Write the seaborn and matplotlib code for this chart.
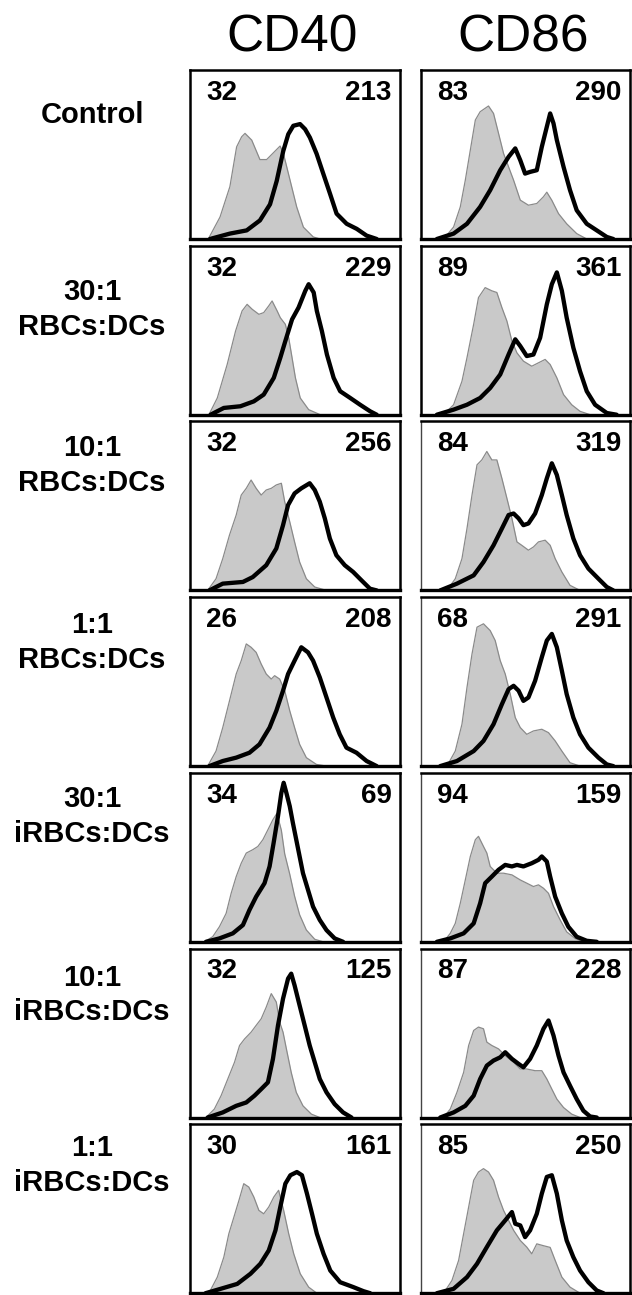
import matplotlib
matplotlib.use("Agg")
import matplotlib.pyplot as plt
import pandas as pd
import seaborn as sns

# ==============================
# Data
# x, y in % of panel width / height (0 = left / bottom)
# ==============================
ROW_LABELS = ["Control", "30:1\nRBCs:DCs", "10:1\nRBCs:DCs", "1:1\nRBCs:DCs",
              "30:1\niRBCs:DCs", "10:1\niRBCs:DCs", "1:1\niRBCs:DCs"]
MARKERS = ["CD40", "CD86"]

CD40_ISO_MFI = [32, 32, 32, 26, 34, 32, 30]
CD40_STAIN_MFI = [213, 229, 256, 208, 69, 125, 161]
CD86_ISO_MFI = [83, 89, 84, 68, 94, 87, 85]
CD86_STAIN_MFI = [290, 361, 319, 291, 159, 228, 250]

# ---- CD40 isotype (grey filled) ----
CD40_R1_GRAY = [(8.7, 0), (14.3, 13), (19, 31), (22.2, 54.5), (24.6, 60.5), (26.2, 62.5), (29.4, 58.5),
                (33.3, 47), (36.5, 47), (39.7, 51), (42.9, 55), (44.4, 51), (47.6, 35), (50.8, 19),
                (54, 7), (58.7, 1.2), (62, 0)]
CD40_R2_GRAY = [(9, 0), (13, 9.9), (17.7, 29.7), (21.7, 49.5), (24.8, 61.4), (27.2, 65.3), (29.6, 62.4),
                (32.8, 59.4), (35.1, 60.4), (37.5, 64.4), (39.1, 67.3), (41.5, 61.4), (43, 57.4),
                (45.4, 53.5), (47, 45.5), (48.6, 33.7), (50.2, 21.8), (52.5, 9.9), (56.5, 3), (62, 0)]
CD40_R3_GRAY = [(8.4, 0), (12.4, 6.9), (15.6, 18.8), (18.8, 32.7), (22, 44.6), (24.4, 56.4), (26.8, 60.4),
                (29.1, 65.3), (31.5, 60.4), (33.9, 56.4), (36.3, 59.4), (38.7, 60.4), (41.1, 62.4),
                (43.5, 63.4), (45.1, 52.5), (47.5, 40.6), (49.8, 28.7), (52.2, 16.8), (55.4, 6.9),
                (59.4, 2), (65, 0)]
CD40_R4_GRAY = [(8.4, 0), (12.4, 8.9), (15.6, 22.8), (18.8, 38.6), (22, 54.5), (24.4, 62.4), (26.8, 72.3),
                (29.1, 70.3), (31.5, 67.3), (33.9, 60.4), (36.3, 54.5), (38.7, 51.5), (40.3, 53.5),
                (42.7, 51.5), (45.1, 44.6), (47.5, 32.7), (49.8, 22.8), (52.2, 12.9), (55.4, 5),
                (60.2, 1), (65, 0)]
CD40_R5_GRAY = [(6.8, 0), (10.8, 3), (14, 8.9), (17.2, 16.8), (19.6, 28.7), (22, 38.6), (24.4, 46.5),
                (26.8, 52.5), (29.9, 54.5), (32.3, 56.4), (34.7, 60.4), (37.1, 66.3), (39.5, 72.3),
                (41.4, 76), (43.5, 66), (45.1, 52), (47.5, 40), (49.8, 27), (52.2, 16), (55.4, 7),
                (59.4, 1.5), (63.4, 0)]
CD40_R6_GRAY = [(7.6, 0), (11.6, 5), (14.8, 12.9), (18, 22.8), (21.2, 32.7), (23.6, 42.6), (26, 46.5),
                (29.1, 50.5), (31.5, 54.5), (33.9, 58.4), (36.3, 65.3), (38.7, 73.3), (41.1, 68.3),
                (42.7, 56.4), (44.3, 50.5), (45.9, 40.6), (48.2, 26.7), (50.6, 14.9), (53.8, 6.9),
                (57.8, 2), (61.8, 0)]
CD40_R7_GRAY = [(9, 0), (13, 9.5), (16.1, 21.3), (18.5, 35.2), (20.9, 45), (23.3, 54.9), (25.6, 64.8),
                (28, 62.8), (30.4, 56.9), (32.8, 49), (35.1, 47), (37.5, 51), (39.9, 56.9), (42.2, 60.9),
                (44.6, 49), (47, 35.2), (49.4, 23.3), (52.5, 11.5), (56.5, 3.6), (60.4, 0)]

# ---- CD40 stained (black line) ----
CD40_R1_BLACK = [(9.5, 0), (19, 3.2), (27, 5.1), (33.3, 11), (38.1, 20.5), (41.3, 34.4), (44.4, 52),
                 (46.8, 62), (49.2, 67), (52.4, 68), (54.8, 65), (57.1, 60), (60.3, 50.4), (63.5, 38.5),
                 (66.7, 26.7), (69.8, 15), (74.6, 9), (79.4, 6), (84.1, 2), (88.9, 0)]
CD40_R2_BLACK = [(9.8, 0), (16.1, 4), (24, 5), (30.4, 7.9), (35.1, 11.9), (39.9, 21.8), (43, 33.7),
                 (45.4, 43.6), (48.6, 56.4), (51.7, 63.4), (54.9, 73.3), (56.5, 77.2), (58.9, 72.3),
                 (60.4, 61.4), (62.8, 49.5), (65.2, 35.6), (68.4, 21.8), (71.5, 13.9), (76.3, 9.9),
                 (81, 5.9), (85.8, 2), (88.9, 0)]
CD40_R3_BLACK = [(9.2, 0), (15.6, 4), (25.2, 5), (29.9, 7.9), (36.3, 14.9), (41.1, 24.8), (44.3, 38.6),
                 (46.7, 50.5), (49.8, 57.4), (53, 60.4), (57, 63.4), (59.4, 59.4), (61.8, 52.5),
                 (64.2, 42.6), (66.6, 30.7), (69.7, 20.8), (73.7, 14.9), (77.7, 10.9), (81.7, 5.9),
                 (85.7, 1), (88.9, 0)]
CD40_R4_BLACK = [(9.2, 0), (15.6, 3), (22, 5), (28.3, 7.9), (33.1, 12.9), (37.9, 22.8), (41.1, 32.7),
                 (44.3, 44.6), (46.7, 54.5), (49.8, 62.4), (53, 70.3), (56.2, 67.3), (58.6, 62.4),
                 (61.8, 52.5), (65, 40.6), (68.2, 28.7), (71.3, 18.8), (74.5, 10.9), (79.3, 7.9),
                 (84.1, 3), (88.9, 0)]
CD40_R5_BLACK = [(7.6, 0), (14, 2), (20.4, 5), (25.2, 9.9), (28.3, 18.8), (31.5, 26.7), (35.5, 34.7),
                 (37.9, 44.6), (39.8, 58.4), (41.9, 74.3), (43.5, 88.1), (44.6, 94.1), (45.9, 88.1),
                 (47.5, 80.2), (49, 70.3), (50.6, 60.4), (52.2, 50.5), (53.8, 40.6), (56.2, 30.7),
                 (58.6, 20.8), (61.8, 12.9), (65, 6.9), (68.9, 2), (72.9, 0)]
CD40_R6_BLACK = [(8.4, 0), (15.6, 3), (22, 6.9), (26.8, 8.9), (30.7, 12.9), (33.9, 16.8), (37.1, 20.8),
                 (39.5, 34.7), (41.9, 54.5), (44.3, 70.3), (46.7, 82.2), (48.2, 85.1), (49.8, 78.2),
                 (52.2, 66.3), (54.6, 54.5), (57, 42.6), (59.4, 32.7), (61.8, 22.8), (65, 14.9),
                 (68.9, 7.9), (72.9, 3), (76.9, 0)]
CD40_R7_BLACK = [(7.4, 0), (14.6, 2.6), (22.5, 5.5), (28.8, 11.5), (33.5, 17.4), (37.5, 25.3), (40.7, 37.2),
                 (43, 51), (45.4, 64.8), (47.8, 69.8), (50.9, 71.7), (53.3, 69.8), (55.7, 58.9),
                 (58.1, 47), (60.4, 35.2), (63.6, 23.3), (66.8, 13.4), (71.5, 6.5), (77.8, 3.6),
                 (82.6, 1.2), (85.8, 0)]

# ---- CD86 isotype (grey filled) ----
CD86_R1_GRAY = [(10.8, 0), (15.6, 7.1), (18.8, 19), (21.2, 34.8), (23.6, 52.6), (26, 70.4), (28.3, 75.3),
                (32.3, 78.7), (34.7, 74.3), (37.1, 62.5), (39.5, 50.6), (41.9, 42.7), (44.3, 34.8),
                (47.5, 23), (51.4, 20), (55.4, 21), (58.6, 25), (60.2, 27.7), (62.6, 22.9), (65.8, 15),
                (69.7, 9), (74.5, 3.2), (79.3, 0)]
CD86_R2_GRAY = [(10.8, 0), (15.6, 5.9), (19.6, 19.8), (22, 33.7), (25.2, 53.5), (27.5, 69.3), (30.7, 75.2),
                (33.9, 73.3), (36.3, 72.3), (38.7, 63.4), (41.1, 55.4), (43.5, 43.6), (45.9, 36.6),
                (49, 31.7), (53, 28.7), (56.2, 30.7), (59.4, 32.7), (61.8, 29.7), (65, 21.8),
                (68.2, 11.9), (72.1, 5.9), (76.1, 2), (80.9, 0)]
CD86_R3_GRAY = [(12.4, 0), (16.4, 6.9), (19.6, 18.8), (22, 36.6), (24.4, 56.4), (26.8, 74.3), (29.1, 77.2),
                (31.5, 82.2), (33.9, 77.2), (36.3, 77.2), (38.7, 66.3), (41.1, 54.5), (43.5, 42.6),
                (45.9, 28.7), (48.2, 26.7), (51.4, 23.8), (53.8, 25.7), (56.2, 28.7), (59.4, 29.7),
                (61.8, 26.7), (64.2, 18.8), (67.4, 10.9), (71.3, 3), (76.1, 0)]
CD86_R4_GRAY = [(12.4, 0), (16.4, 8.9), (19.6, 24.8), (22, 46.5), (24.4, 66.3), (26.8, 82.2), (29.9, 84.2),
                (33.1, 80.2), (35.5, 74.3), (37.9, 62.4), (40.3, 54.5), (42.7, 42.6), (45.1, 28.7),
                (47.5, 22.8), (50.6, 18.8), (53.8, 20.8), (57.8, 21.8), (61, 19.8), (64.2, 14.9),
                (67.4, 8.9), (71.3, 2), (76.1, 0)]
CD86_R5_GRAY = [(10.8, 0), (14, 5), (16.4, 10.9), (18.8, 22.8), (21.2, 36.6), (23.6, 50.5), (26, 60.4),
                (27.5, 62.4), (29.9, 56.4), (31.5, 52.5), (33.1, 44.6), (36.3, 40.6), (39.5, 40.6),
                (43.5, 39.6), (47.5, 36.6), (50.6, 34.7), (53.8, 32.7), (56.2, 33.7), (58.6, 31.7),
                (61, 28.7), (63.4, 20.8), (66.6, 12.9), (69.7, 5.9), (73.7, 2), (77.7, 0)]
CD86_R6_GRAY = [(10.8, 0), (14, 5), (17.2, 14.9), (20.4, 26.7), (22.8, 42.6), (25.2, 51.5), (27.5, 53.5),
                (29.9, 52.5), (31.5, 44.6), (33.9, 42.6), (37.1, 40.6), (40.3, 36.6), (44.3, 32.7),
                (47.5, 28.7), (50.6, 28.7), (54.6, 27.7), (57.8, 27.7), (60.2, 22.8), (62.6, 16.8),
                (65, 10.9), (68.2, 5.9), (72.1, 2), (76.1, 0)]
CD86_R7_GRAY = [(10.8, 0), (14.8, 7.5), (18, 19.4), (20.4, 35.2), (22.8, 51), (25.2, 66.8), (27.5, 71.7),
                (29.9, 73.7), (32.3, 71.7), (34.7, 66.8), (37.1, 56.9), (39.5, 49), (41.9, 43.1),
                (44.3, 37.2), (47.5, 31.2), (50.6, 27.3), (53, 23.3), (55.4, 29.2), (58.6, 28.1),
                (61.8, 27.1), (64.2, 19.4), (67.4, 9.5), (71.3, 3.6), (76.1, 0)]

# ---- CD86 stained (black line) ----
CD86_R1_BLACK = [(7.6, 0), (15.6, 3.2), (22, 9), (28.3, 19), (33.1, 28.9), (37.9, 40.7), (41.9, 48.6),
                 (45.1, 53.6), (47.5, 46.6), (49.8, 38.7), (52.2, 39.7), (55.4, 40.7), (57.8, 54.5),
                 (60.2, 66.4), (61.8, 74.3), (63.4, 68.4), (65, 58.5), (68.2, 42.7), (71.3, 28.9),
                 (74.5, 17), (79.3, 9), (84.1, 5.1), (88.9, 1.2), (92, 0)]
CD86_R2_BLACK = [(7.6, 0), (15.6, 3), (22, 5.9), (28.3, 9.9), (33.1, 15.8), (37.9, 23.8), (41.9, 35.6),
                 (45.1, 44.6), (47.5, 40.6), (50.6, 34.7), (53.8, 35.6), (57, 45.5), (60.2, 65.3),
                 (62.6, 77.2), (65, 84.2), (67.4, 73.3), (69.7, 57.4), (72.9, 39.6), (76.1, 25.7),
                 (79.3, 13.9), (83.3, 5.9), (88.9, 1), (93.6, 0)]
CD86_R3_BLACK = [(9.2, 0), (17.2, 4), (25.2, 8.9), (29.9, 16.8), (34.7, 26.7), (38.7, 36.6), (41.9, 44.6),
                 (44.3, 45.5), (46.7, 42.6), (49, 38.6), (51.4, 39.6), (54.6, 45.5), (57.8, 56.4),
                 (60.2, 66.3), (62.6, 75.2), (65, 68.3), (67.4, 56.4), (69.7, 44.6), (72.9, 30.7),
                 (76.1, 20.8), (80.1, 12.9), (84.9, 6.9), (88.9, 2), (92, 0)]
CD86_R4_BLACK = [(9.2, 0), (17.2, 3), (25.2, 8.9), (29.9, 14.9), (34.7, 24.8), (38.7, 36.6), (41.9, 45.5),
                 (44.3, 47.5), (46.7, 44.6), (49, 38.6), (51.4, 40.6), (54.6, 50.5), (57.8, 64.4),
                 (60.2, 74.3), (62.6, 78.2), (65, 70.3), (67.4, 56.4), (69.7, 42.6), (72.9, 28.7),
                 (76.1, 18.8), (80.1, 10.9), (84.9, 5), (88.9, 1), (92, 0)]
CD86_R5_BLACK = [(7.6, 0), (14, 2), (20.4, 5), (25.2, 10.9), (28.3, 22.8), (30.7, 34.7), (33.9, 38.6),
                 (37.1, 42.6), (40.3, 45.5), (43.5, 44.6), (45.9, 45.5), (49, 44.6), (53, 46.5),
                 (56.2, 48.5), (57.8, 50.5), (60.2, 47.5), (61.8, 38.6), (64.2, 26.7), (67.4, 16.8),
                 (70.5, 8.9), (74.5, 3), (79.3, 0.6), (84.1, 0)]
CD86_R6_BLACK = [(9.2, 0), (15.6, 3), (21.2, 6.9), (25.2, 12.9), (28.3, 22.8), (31.5, 30.7), (34.7, 33.7),
                 (37.9, 35.6), (40.3, 38.6), (43.5, 34.7), (46.7, 31.7), (49, 29.7), (52.2, 34.7),
                 (55.4, 42.6), (58.6, 52.5), (61, 57.4), (63.4, 48.5), (65.8, 36.6), (68.2, 26.7),
                 (71.3, 18.8), (74.5, 10.9), (77.7, 4), (80.9, 0.6), (84.1, 0)]
CD86_R7_BLACK = [(7.6, 0), (15.6, 2.6), (22, 9.5), (26.8, 17.4), (31.5, 27.3), (36.3, 37.2), (40.3, 43.1),
                 (43.5, 48), (45.1, 41.1), (47.5, 40.1), (49.8, 33.2), (52.2, 37.2), (55.4, 47),
                 (57.8, 58.9), (60.2, 68.8), (62.6, 69.8), (65, 58.9), (67.4, 43.1), (69.7, 31.2),
                 (72.9, 21.3), (76.1, 13.4), (80.1, 6.5), (84.1, 1.6), (87.3, 0)]

CD40_GRAY = [CD40_R1_GRAY, CD40_R2_GRAY, CD40_R3_GRAY, CD40_R4_GRAY, CD40_R5_GRAY, CD40_R6_GRAY, CD40_R7_GRAY]
CD40_BLACK = [CD40_R1_BLACK, CD40_R2_BLACK, CD40_R3_BLACK, CD40_R4_BLACK, CD40_R5_BLACK, CD40_R6_BLACK, CD40_R7_BLACK]
CD86_GRAY = [CD86_R1_GRAY, CD86_R2_GRAY, CD86_R3_GRAY, CD86_R4_GRAY, CD86_R5_GRAY, CD86_R6_GRAY, CD86_R7_GRAY]
CD86_BLACK = [CD86_R1_BLACK, CD86_R2_BLACK, CD86_R3_BLACK, CD86_R4_BLACK, CD86_R5_BLACK, CD86_R6_BLACK, CD86_R7_BLACK]

# ==============================
# Style / layout (pixels on a 632 x 1295 canvas)
# ==============================
W, H = 632, 1295
COL_LEFT = [190, 421]
COL_WIDTH = [210, 209]
ROW_TOP0, ROW_PITCH, PANEL_H = 70, 175.7, 169
LABEL_DROP = [45, 46, 27, 28, 26, 29, 24]   # first label line below panel top
GRAY_FILL = "#c9c9c9"
GRAY_EDGE = "#8a8a8a"

sns.set_theme(style="white")
plt.rcParams["font.family"] = ["Liberation Sans", "DejaVu Sans"]

fig = plt.figure(figsize=(W / 100, H / 100), dpi=100)


def draw_panel(ax, gray_pts, black_pts, left_num, right_num, thin_left):
    g = pd.DataFrame(gray_pts, columns=["x", "y"])
    b = pd.DataFrame(black_pts, columns=["x", "y"])
    ax.fill_between(g["x"], g["y"], 0, color=GRAY_FILL, lw=0, zorder=1)
    sns.lineplot(data=g, x="x", y="y", ax=ax, color=GRAY_EDGE, lw=0.9,
                 sort=False, estimator=None, zorder=2)
    sns.lineplot(data=b, x="x", y="y", ax=ax, color="black", lw=3.1,
                 sort=False, estimator=None, zorder=3, solid_joinstyle="round")
    ax.set_xlim(0, 100)
    ax.set_ylim(0, 100)
    ax.set(xlabel=None, ylabel=None, xticks=[], yticks=[])
    for side, sp in ax.spines.items():
        sp.set_visible(True)
        sp.set_color("black")
        sp.set_linewidth(1.8)
    ax.spines["bottom"].set_linewidth(2.4)
    if thin_left:
        ax.spines["left"].set_linewidth(1.0)
        ax.spines["left"].set_color("#444444")
    ax.text(0.15, 0.865, str(left_num), transform=ax.transAxes, ha="center", va="center",
            fontsize=20, fontweight="bold", color="black")
    ax.text(0.96, 0.865, str(right_num), transform=ax.transAxes, ha="right", va="center",
            fontsize=20, fontweight="bold", color="black")


for i in range(len(ROW_LABELS)):
    top = ROW_TOP0 + i * ROW_PITCH
    for c, (grays, blacks, lo, hi) in enumerate([
            (CD40_GRAY, CD40_BLACK, CD40_ISO_MFI, CD40_STAIN_MFI),
            (CD86_GRAY, CD86_BLACK, CD86_ISO_MFI, CD86_STAIN_MFI)]):
        ax = fig.add_axes([COL_LEFT[c] / W, 1 - (top + PANEL_H) / H, COL_WIDTH[c] / W, PANEL_H / H])
        draw_panel(ax, grays[i], blacks[i], lo[i], hi[i], thin_left=(c == 1 and i >= 2))

    lines = ROW_LABELS[i].split("\n")
    for k, line in enumerate(lines):
        fig.text(92 / W, 1 - (top + LABEL_DROP[i] + k * 35) / H, line, ha="center", va="center",
                 fontsize=21, fontweight="bold", color="black")

# column headers
for c, name in enumerate(MARKERS):
    cx = [292, 523][c]
    fig.text(cx / W, 1 - 38 / H, name, ha="center", va="center", fontsize=37, color="black")

fig.savefig("out.png", dpi=100, facecolor="white")
